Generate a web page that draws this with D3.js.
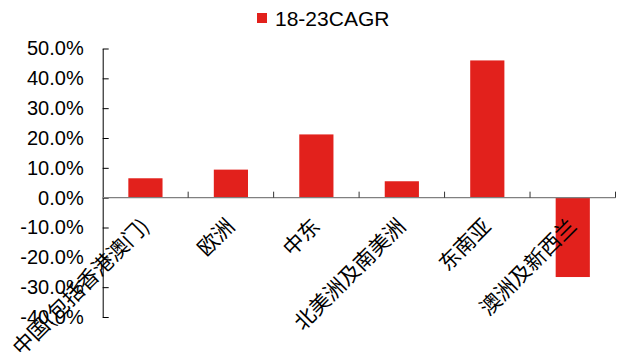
<!DOCTYPE html>
<html>
<head>
<meta charset="utf-8">
<script src="https://cdn.jsdelivr.net/npm/d3@7"></script>
<style>
  html, body { margin: 0; padding: 0; background: #fff; }
  svg { display: block; }
</style>
</head>
<body>
<svg id="chart" width="625" height="356"></svg>
<script>
// Regional 2018–2023 compound annual growth rate
const categories = ["中国(包括香港澳门)", "欧洲", "中东", "北美洲及南美洲", "东南亚", "澳洲及新西兰"];
const cagrValues = [0.065, 0.094, 0.212, 0.055, 0.460, -0.266];
const yTickValues = [-0.4, -0.3, -0.2, -0.1, 0, 0.1, 0.2, 0.3, 0.4, 0.5];
const seriesName = "18-23CAGR";

const svg = d3.select("#chart");
const barColor = "#E2211C";

const plot = {left: 102.7, right: 615.5, top: 48.5, bottom: 317};

const y = d3.scaleLinear().domain([-0.4, 0.5]).range([plot.bottom, plot.top]);
const x = d3.scaleBand().domain(categories).range([plot.left, plot.right])
  .paddingInner(0.6).paddingOuter(0.3);

const locale = d3.formatLocale({decimal: ".", thousands: ",", grouping: [3], currency: ["", ""], minus: "-"});
const pct = locale.format(".1%");

// Bars
svg.append("g").selectAll("rect")
  .data(categories)
  .join("rect")
  .attr("x", d => x(d))
  .attr("width", x.bandwidth())
  .attr("y", (d, i) => y(Math.max(0, cagrValues[i])))
  .attr("height", (d, i) => Math.abs(y(cagrValues[i]) - y(0)))
  .attr("fill", barColor);

// Y axis with inward ticks
const yAxis = d3.axisLeft(y).tickValues(yTickValues).tickFormat(pct)
  .tickSizeInner(-6).tickSizeOuter(0).tickPadding(19);
const yg = svg.append("g").attr("transform", `translate(${plot.left},0)`).call(yAxis);
yg.select(".domain").attr("stroke", "#000").attr("stroke-width", 1);
yg.selectAll(".tick line").attr("stroke", "#000");
yg.selectAll(".tick text")
  .attr("font-family", "'Liberation Sans', Arial, sans-serif")
  .attr("font-size", 20)
  .attr("fill", "#000");

// Zero baseline
svg.append("line")
  .attr("x1", plot.left).attr("x2", plot.right)
  .attr("y1", y(0)).attr("y2", y(0))
  .attr("stroke", "#808080").attr("stroke-width", 1.4);

// Category separators standing on the baseline
svg.append("g").selectAll("line")
  .data(categories)
  .join("line")
  .attr("x1", d => x(d) + x.bandwidth() / 2 + x.step() / 2)
  .attr("x2", d => x(d) + x.bandwidth() / 2 + x.step() / 2)
  .attr("y1", y(0))
  .attr("y2", y(0) - 6)
  .attr("stroke", "#333")
  .attr("stroke-width", 1);

// Rotated category labels
svg.append("g").selectAll("text")
  .data(categories)
  .join("text")
  .attr("transform", d => `translate(${x(d) + x.bandwidth() / 2 + 5},${y(0) + 30}) rotate(-45)`)
  .attr("text-anchor", "end")
  .attr("font-family", "'Noto Sans CJK SC', sans-serif")
  .attr("font-size", 21)
  .attr("fill", "#000")
  .text(d => d);

// Legend
const legend = svg.append("g");
legend.append("rect")
  .attr("x", 257).attr("y", 13).attr("width", 10).attr("height", 10)
  .attr("fill", barColor);
legend.append("text")
  .attr("x", 275).attr("y", 25.5)
  .attr("font-family", "'Liberation Sans', Arial, sans-serif")
  .attr("font-size", 21)
  .attr("fill", "#000")
  .text(seriesName);
</script>
</body>
</html>
